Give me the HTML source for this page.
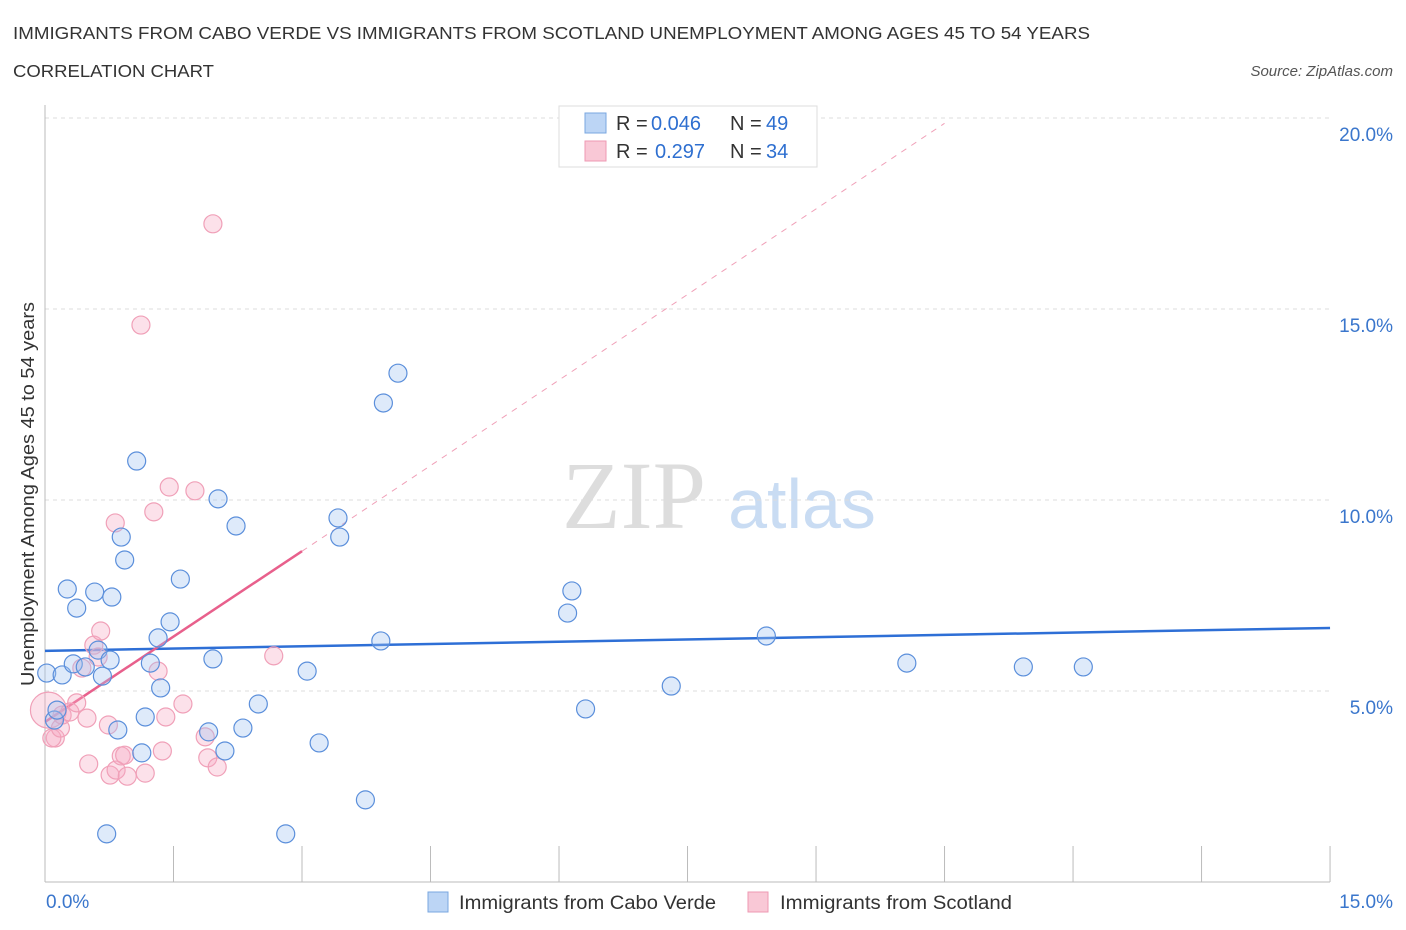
<!DOCTYPE html>
<html><head><meta charset="utf-8"><style>
body{margin:0;background:#fff;font-family:"Liberation Sans",sans-serif;}
svg{display:block}
</style></head><body>
<svg id="c" width="1406" height="930">
<text x="13" y="39" font-size="17.5" fill="#333" textLength="1077" lengthAdjust="spacingAndGlyphs">IMMIGRANTS FROM CABO VERDE VS IMMIGRANTS FROM SCOTLAND UNEMPLOYMENT AMONG AGES 45 TO 54 YEARS</text>
<text x="13" y="77" font-size="17.5" fill="#333" textLength="201" lengthAdjust="spacingAndGlyphs">CORRELATION CHART</text>
<text x="1393" y="76" font-size="15" fill="#555" font-style="italic" text-anchor="end">Source: ZipAtlas.com</text>
<text x="634" y="528" font-size="96" fill="#ddd" font-family="Liberation Serif,serif" text-anchor="middle">ZIP</text>
<text x="802" y="528" font-size="70" fill="#c9dcf3" text-anchor="middle">atlas</text>
<text transform="translate(34,494) rotate(-90)" font-size="18" fill="#333" text-anchor="middle" textLength="384" lengthAdjust="spacingAndGlyphs">Unemployment Among Ages 45 to 54 years</text>
<g id="grid"></g><g id="trend"></g><g id="pts"></g>
<g>
<rect x="559" y="106" width="258" height="61" fill="#fff" stroke="#ddd"/>
<rect x="585" y="113" width="21" height="20" fill="#bcd5f5" stroke="#7aa7e0"/>
<rect x="585" y="141" width="21" height="20" fill="#f9c8d6" stroke="#ee99b3"/>
<text x="616" y="130" font-size="20" fill="#333">R = <tspan x="651" fill="#2e6fd0">0.046</tspan><tspan x="730">N = </tspan><tspan x="766" fill="#2e6fd0">49</tspan></text>
<text x="616" y="158" font-size="20" fill="#333">R = <tspan x="655" fill="#2e6fd0">0.297</tspan><tspan x="730">N = </tspan><tspan x="766" fill="#2e6fd0">34</tspan></text>
</g>
<g>
<rect x="428" y="892" width="20" height="20" fill="#bcd5f5" stroke="#7aa7e0"/>
<text x="459" y="909" font-size="19" fill="#333" textLength="257" lengthAdjust="spacingAndGlyphs">Immigrants from Cabo Verde</text>
<rect x="748" y="892" width="20" height="20" fill="#f9c8d6" stroke="#ee99b3"/>
<text x="780" y="909" font-size="19" fill="#333" textLength="232" lengthAdjust="spacingAndGlyphs">Immigrants from Scotland</text>
</g>
</svg>
<script>
const yTicks=[5,10,15,20];
const yTickLabels=["5.0%","10.0%","15.0%","20.0%"];
const xTickLabels=["0.0%","15.0%"];
const blueX=[0.02,0.20,0.11,0.14,0.26,0.33,0.37,0.47,0.58,0.62,0.67,0.72,0.78,0.85,0.89,0.93,1.07,1.13,1.17,1.23,1.32,1.35,1.46,1.58,1.91,1.96,2.02,2.10,2.23,2.31,2.49,2.81,3.06,3.20,3.42,3.44,3.74,3.92,3.95,4.12,6.10,6.15,6.31,7.31,8.42,10.06,11.42,12.12,0.76];
const blueY=[5.47,5.42,4.24,4.50,7.67,5.71,7.17,5.63,7.59,6.07,5.39,1.26,7.46,3.98,9.03,8.43,11.02,3.38,4.32,5.73,6.39,5.08,6.81,7.93,3.93,5.84,10.03,3.43,9.32,4.03,4.66,1.26,5.52,3.64,9.53,9.03,2.15,6.31,12.54,13.32,7.04,7.62,4.53,5.13,6.44,5.73,5.63,5.63,5.81];
const pinkX=[0.04,0.12,0.08,0.18,0.20,0.29,0.37,0.43,0.49,0.51,0.57,0.62,0.65,0.74,0.76,0.83,0.89,0.93,0.96,1.12,1.17,1.32,1.37,1.41,1.45,1.27,0.82,1.61,1.75,1.87,1.90,1.96,2.01,2.67];
const pinkY=[4.50,3.77,3.77,4.03,4.37,4.45,4.69,5.60,4.29,3.09,6.20,5.89,6.57,4.11,2.80,2.93,3.30,3.32,2.77,14.58,2.85,5.52,3.43,4.32,10.34,9.69,9.40,4.66,10.24,3.80,3.25,17.23,3.01,5.92];
const blueTrend=[[0,6.05],[15,6.65]];
const pinkTrendSolid=[[0,4.19],[3.0,8.66]];
const pinkTrendDash=[[3.0,8.66],[10.5,19.86]];
const NS="http://www.w3.org/2000/svg";
const sx=v=>45+v*85.67, sy=v=>882-v*38.2;
function mk(p,t,a){const e=document.createElementNS(NS,t);for(const k in a)e.setAttribute(k,a[k]);p.appendChild(e);return e;}
const g=document.getElementById('grid');
yTicks.forEach((t,i)=>{
 const l=mk(g,'line',{x1:45,x2:1330,y1:sy(t),y2:sy(t),stroke:'#ddd','stroke-dasharray':'4,4'});
 
 
 const tx=mk(g,'text',{x:1393,y:sy(t)+23,'font-size':19,fill:'#3a76cc','text-anchor':'end'});
 tx.textContent=yTickLabels[i];
 
 
});
const ax=mk(g,'line',{x1:45,x2:45,y1:105,y2:882,stroke:'#bbb'});


const bx=mk(g,'line',{x1:45,x2:1330,y1:882,y2:882,stroke:'#bbb'});


for(let i=0;i<=10;i++){const t=mk(g,'line',{x1:sx(i*1.5),x2:sx(i*1.5),y1:846,y2:882,stroke:'#bbb'});
 
 }
[[0,'start',46],[15,'end',1393]].forEach((d,i)=>{const t=mk(g,'text',{x:d[2],y:908,'font-size':19,fill:'#3a76cc','text-anchor':d[1]});t.textContent=xTickLabels[i];
 
 });
const tr=document.getElementById('trend');
function line(d,c,w,dash,n){const l=mk(tr,'line',{x1:sx(d[0][0]),y1:sy(d[0][1]),x2:sx(d[1][0]),y2:sy(d[1][1]),stroke:c,'stroke-width':w});if(dash)l.setAttribute('stroke-dasharray',dash);
 
 }
line(pinkTrendDash,'#f0a0b8',1,'6,6','scotland-trend-extension');
const pts=document.getElementById('pts');
pinkX.forEach((x,i)=>{const c=mk(pts,'circle',{cx:sx(x),cy:sy(pinkY[i]),r:i==0?18:9,fill:'rgba(246,170,194,0.35)',stroke:'#f0a0b8','stroke-width':1.2});
 
 });
blueX.forEach((x,i)=>{const c=mk(pts,'circle',{cx:sx(x),cy:sy(blueY[i]),r:9,fill:'rgba(160,196,240,0.35)',stroke:'#5b8fdb','stroke-width':1.2});
 
 });
line(blueTrend,'#2e6fd6',2.5,null,'cabo-verde-trend-line');
line(pinkTrendSolid,'#e8608c',2.5,null,'scotland-trend-line');
</script>
</body></html>
